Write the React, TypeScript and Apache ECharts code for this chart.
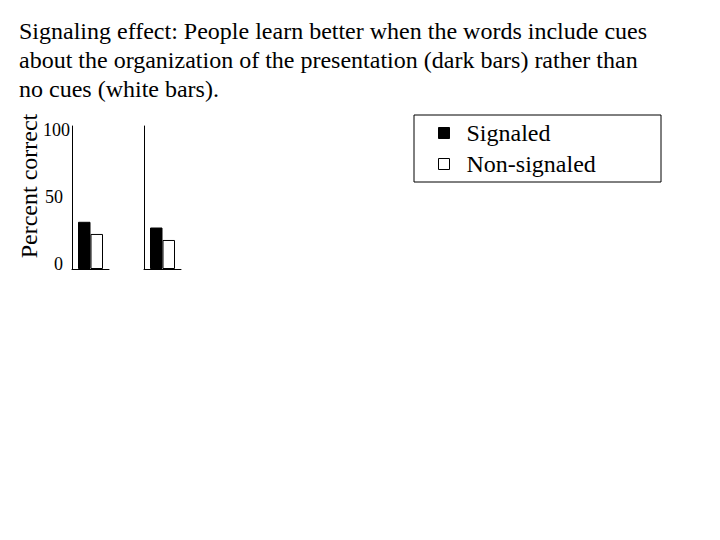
import React, { useEffect, useRef } from "react";
import * as echarts from "echarts";

const titleLines = [
  "Signaling effect: People learn better when the words include cues",
  "about the organization of the presentation (dark bars) rather than",
  "no cues (white bars).",
];
const yAxisName = "Percent correct";
const seriesNames = ["Signaled", "Non-signaled"];
const signaledValues = [33, 29];
const nonSignaledValues = [24.5, 20.3];
const yTickMin = 0;
const yTickMax = 100;
const yTickInterval = 50;

const FONT = '"Liberation Serif", "Times New Roman", serif';

export default function App() {
  const ref = useRef<HTMLDivElement>(null);
  useEffect(() => {
    if (!ref.current) return;
    const chart = echarts.init(ref.current, null, { renderer: "svg" });
    const makeBars = (i: number) => [
      {
        name: seriesNames[0],
        type: "bar",
        xAxisIndex: i,
        yAxisIndex: i,
        data: [signaledValues[i]],
        barWidth: 12.5,
        barGap: "0%",
        itemStyle: { color: "#000", borderColor: "#000", borderWidth: 1 },
      },
      {
        name: seriesNames[1],
        type: "bar",
        xAxisIndex: i,
        yAxisIndex: i,
        data: [nonSignaledValues[i]],
        barWidth: 12.5,
        barGap: "0%",
        itemStyle: { color: "#fff", borderColor: "#000", borderWidth: 1 },
      },
    ];
    const plainX = (gridIndex: number) => ({
      type: "category",
      gridIndex,
      data: [""],
      axisLine: { show: true, lineStyle: { color: "#000", width: 1 } },
      axisTick: { show: false },
      axisLabel: { show: false },
      splitLine: { show: false },
    });
    const plainY = (gridIndex: number) => ({
      type: "value",
      gridIndex,
      min: yTickMin,
      max: yTickMax,
      interval: yTickInterval,
      axisLine: { show: true, lineStyle: { color: "#000", width: 1 } },
      axisTick: { show: false },
      axisLabel: { show: false },
      splitLine: { show: false },
    });
    chart.setOption({
      animation: false,
      backgroundColor: "#fff",
      title: {
        text: titleLines.join("\n"),
        left: 19,
        top: 17,
        padding: 0,
        textStyle: {
          fontFamily: FONT,
          fontSize: 24,
          fontWeight: "normal",
          color: "#000",
          lineHeight: 28.7,
        },
      },
      legend: {
        orient: "vertical",
        left: 438,
        top: 121,
        padding: 0,
        itemWidth: 11,
        itemHeight: 11,
        itemGap: 7,
        icon: "rect",
        textStyle: {
          fontFamily: FONT,
          fontSize: 24,
          color: "#000",
          padding: [0, 0, 0, 12],
        },
        data: [
          { name: seriesNames[0], itemStyle: { color: "#000", borderColor: "#000", borderWidth: 1 } },
          { name: seriesNames[1], itemStyle: { color: "#fff", borderColor: "#000", borderWidth: 1 } },
        ],
      },
      grid: [
        { left: 72, top: 126, width: 37, height: 143 },
        { left: 144, top: 126, width: 37, height: 143 },
        { left: 72, top: 130, width: 10, height: 134 },
      ],
      xAxis: [plainX(0), plainX(1), { ...plainX(2), axisLine: { show: false } }],
      yAxis: [
        plainY(0),
        plainY(1),
        {
          ...plainY(2),
          axisLine: { show: false },
          axisLabel: {
            show: true,
            margin: 2,
            fontFamily: FONT,
            fontSize: 18,
            color: "#000",
            formatter: (v: number) => (v === yTickMax ? `{a|${v}}` : `{b|${v}}`),
            rich: {
              a: { fontFamily: FONT, fontSize: 18, color: "#000" },
              b: { fontFamily: FONT, fontSize: 18, color: "#000", padding: [0, 7, 0, 0] },
            },
          },
        },
      ],
      graphic: [
        {
          type: "rect",
          shape: { x: 414, y: 115, width: 247, height: 67 },
          style: { fill: "none", stroke: "#000", lineWidth: 1 },
          silent: true,
        },
        {
          type: "text",
          x: 29,
          y: 186,
          rotation: Math.PI / 2,
          style: {
            text: yAxisName,
            fontFamily: FONT,
            fontSize: 24,
            fill: "#000",
            align: "center",
            verticalAlign: "middle",
          },
        },
      ],
      series: [...makeBars(0), ...makeBars(1)],
    });
    return () => chart.dispose();
  }, []);
  return (
    <div
      ref={ref}
      style={{ position: "fixed", left: 0, top: 0, width: 720, height: 540 }}
    />
  );
}
